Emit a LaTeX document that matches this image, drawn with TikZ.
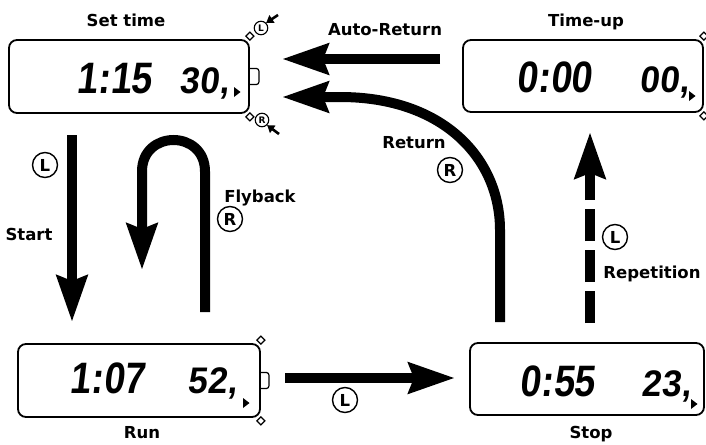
\documentclass[tikz,border=0pt]{standalone}
\usepackage{fontspec}
\setmainfont{DejaVu Sans}
\newfontfamily\lcdbig{Liberation Sans}[FakeStretch=0.85,FakeSlant=0.12]
\newfontfamily\lcdsmall{Liberation Sans}[FakeStretch=0.95,FakeSlant=0.12]
\usetikzlibrary{arrows.meta,calc}
\tikzset{
  lcd/.style={draw, line width=1.8pt, rounded corners=8pt, inner sep=0pt},
  flow/.style={line width=10pt, -{Stealth[length=46pt,width=30pt,inset=5pt]}},
  lbl/.style={font=\fontsize{16.5}{18}\selectfont\bfseries, inner sep=0pt},
  keybig/.style={circle, draw, line width=1.4pt, inner sep=0pt, minimum size=25pt, font=\fontsize{16.5}{16.5}\selectfont\bfseries},
  keysmall/.style={circle, draw, line width=1.1pt, inner sep=0pt, minimum size=13.5pt, font=\fontsize{9}{9}\selectfont\bfseries},
  bigdig/.style={font=\lcdbig\bfseries\fontsize{44}{44}\selectfont, inner sep=0pt, anchor=base east},
  smalldig/.style={font=\lcdsmall\bfseries\fontsize{37}{37}\selectfont, inner sep=0pt, anchor=base east},
  btn/.style={draw, line width=1.2pt, fill=white},
  pointer/.style={line width=2.6pt, -{Triangle[length=7pt,width=9pt]}}
}
\begin{document}
\begin{tikzpicture}[x=1pt,y=-1pt]
\useasboundingbox (0,0) rectangle (706,444);

% displays
\node[lcd, minimum width=240pt, minimum height=73pt] (st) at (129,76.5) {};
\node[lcd, minimum width=240pt, minimum height=72pt] (tu) at (583,76) {};
\node[lcd, minimum width=242pt, minimum height=73pt] (rn) at (139,380.5) {};
\node[lcd, minimum width=234pt, minimum height=72pt] (sp) at (587,379) {};

% side buttons and corner buttons
\draw[line width=1.2pt, rounded corners=2.5pt] ($(st.east)+(0,-8)$) -- ++(9,0) -- ++(0,16) -- ++(-9,0);
\draw[line width=1.2pt, rounded corners=2.5pt] ($(rn.east)+(0,-8)$) -- ++(8,0) -- ++(0,16) -- ++(-8,0);
\foreach \c/\d in {st.north east/-3, st.south east/3, rn.north east/-3, rn.south east/3, tu.north east/-3, tu.south east/3}{
  \draw[btn] ($(\c)+(0,\d)$) ++(-4,0) -- ++(4,-4) -- ++(4,4) -- ++(-4,4) -- cycle;
}

% labels
\node[lbl, anchor=base] (lst) at (126,27) {Set time};
\node[lbl, anchor=base] (ltu) at (586,27) {Time-up};
\node[lbl, anchor=base] (lrn) at (142,438) {Run};
\node[lbl, anchor=base] (lsp) at (591,438) {Stop};

% display readings
\node[bigdig] (d1a) at (152,93) {1:15};
\node[smalldig] (d1b) at (229,93) {30,};
\node[bigdig] (d2a) at (592,92) {0:00};
\node[smalldig] (d2b) at (689,92) {00,};
\node[bigdig] (d3a) at (145,393) {1:07};
\node[smalldig] (d3b) at (237,393) {52,};
\node[bigdig] (d4a) at (595,396) {0:55};
\node[smalldig] (d4b) at (691,396) {23,};
\foreach \x/\y in {234/92, 689/96, 243/403, 691/404}{
  \fill (\x,\y-5) -- (\x+6.5,\y) -- (\x,\y+5) -- cycle;
}

% key markers on Set time
\node[keysmall] (kL) at (261,28) {L};
\node[keysmall] (kR) at (262,120) {R};
\coordinate (pL) at (278,15);
\coordinate (pR) at (279,134);
\draw[pointer] (pL) -- (kL.north east);
\draw[pointer] (pR) -- (kR.south east);

% arrow end points
\coordinate (arA) at (440,59);  \coordinate (arB) at (282,59);
\coordinate (reA) at (500,322); \coordinate (reB) at (282,97);
\coordinate (saA) at (72,135);  \coordinate (saB) at (72,322);
\coordinate (fbA) at (205,312); \coordinate (fbB) at (142,270);
\coordinate (spA) at (285,378); \coordinate (spB) at (455,378);
\coordinate (rpA) at (590,323); \coordinate (rpB) at (590,132);

% Auto-Return
\draw[flow] (arA) -- (arB);
\node[lbl, anchor=base] (lar) at (385,36) {Auto-Return};

% Return
\draw[flow] (reA) -- (500,230) .. controls (500,160) and (445,97) .. (340,97) -- (reB);
\node[lbl, anchor=base] (lre) at (414,148) {Return};
\node[keybig] (kre) at (450,170) {R};

% Start
\draw[flow] (saA) -- (saB);
\node[keybig] (ksa) at (45,165) {L};
\node[lbl, anchor=base] (lsa) at (29,240) {Start};

% Flyback
\draw[flow] (fbA) -- (205,171.5) .. controls (205,129.5) and (142,129.5) .. (142,171.5) -- (fbB);
\node[lbl, anchor=base] (lfb) at (260,202) {Flyback};
\node[keybig] (kfb) at (230,219) {R};

% Run -> Stop
\draw[flow] (spA) -- (spB);
\node[keybig] (ksp) at (345,400) {L};

% Repetition
\draw[flow, dash pattern=on 32pt off 9pt] (rpA) -- (rpB);
\node[keybig] (krp) at (615,237) {L};
\node[lbl, anchor=base] (lrp) at (652,278) {Repetition};
\end{tikzpicture}
\end{document}
